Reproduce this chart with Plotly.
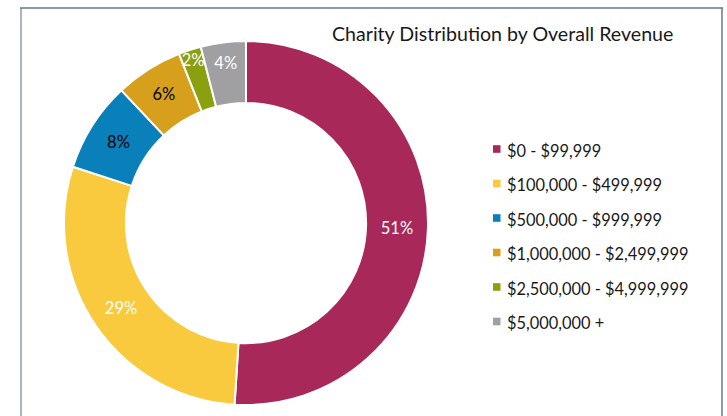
import plotly.graph_objects as go

# Revenue bands and share of charities in each band (%)
bands = ["$0 - $99,999", "$100,000 - $499,999", "$500,000 - $999,999",
         "$1,000,000 - $2,499,999", "$2,500,000 - $4,999,999", "$5,000,000 +"]
shares = [51, 29, 8, 6, 2, 4]
colors = ["#A8285A", "#F9C93E", "#0A80BA", "#D6A01D", "#8AA00F", "#A0A0A2"]
label_colors = ["white", "white", "black", "black", "white", "white"]

W, H = 727, 416
FONT = "Lato, 'Open Sans', sans-serif"


def px(x):
    return x / W


def py(y):
    return 1 - y / H


fig = go.Figure(go.Pie(
    labels=bands,
    values=shares,
    text=[f"{v}%" for v in shares],
    textinfo="text",
    textposition="inside",
    insidetextorientation="horizontal",
    textfont=dict(family=FONT, size=16.5, color=label_colors),
    hole=0.66,
    sort=False,
    direction="clockwise",
    rotation=0,
    marker=dict(colors=colors, line=dict(color="white", width=2)),
    domain=dict(x=[px(64), px(428)], y=[py(405), py(41)]),
    showlegend=False,
))

shapes = [
    # chart frame
    dict(type="line", xref="paper", yref="paper", x0=px(21), x1=px(21), y0=py(8), y1=py(420),
         line=dict(color="#A9B5C0", width=2)),
    dict(type="line", xref="paper", yref="paper", x0=px(722), x1=px(722), y0=py(8), y1=py(420),
         line=dict(color="#8A9AAA", width=2)),
    dict(type="line", xref="paper", yref="paper", x0=px(20), x1=px(723), y0=py(8), y1=py(8),
         line=dict(color="#5F7A90", width=1.5)),
]
annotations = [
    dict(text="Charity Distribution by Overall Revenue", xref="paper", yref="paper",
         x=px(330), y=py(33), xanchor="left", yanchor="middle", showarrow=False,
         font=dict(family=FONT, size=19.6, color="#1a1a1a")),
]

# legend: colour swatch + band name
for i, (band, col) in enumerate(zip(bands, colors)):
    yc = 149 + i * 34.5
    shapes.append(dict(type="rect", xref="paper", yref="paper",
                       x0=px(493), x1=px(500.5), y0=py(yc - 3.8), y1=py(yc + 3.8),
                       fillcolor=col, line=dict(width=0)))
    annotations.append(dict(text=band, xref="paper", yref="paper", x=px(505), y=py(yc + 1),
                            xanchor="left", yanchor="middle", showarrow=False,
                            font=dict(family=FONT, size=16.4, color="#1a1a1a")))

fig.update_layout(
    width=W, height=H,
    margin=dict(l=0, r=0, t=0, b=0),
    paper_bgcolor="white",
    plot_bgcolor="white",
    shapes=shapes,
    annotations=annotations,
    uniformtext=dict(minsize=16.5, mode="show"),
)

fig.write_html("out.html")
